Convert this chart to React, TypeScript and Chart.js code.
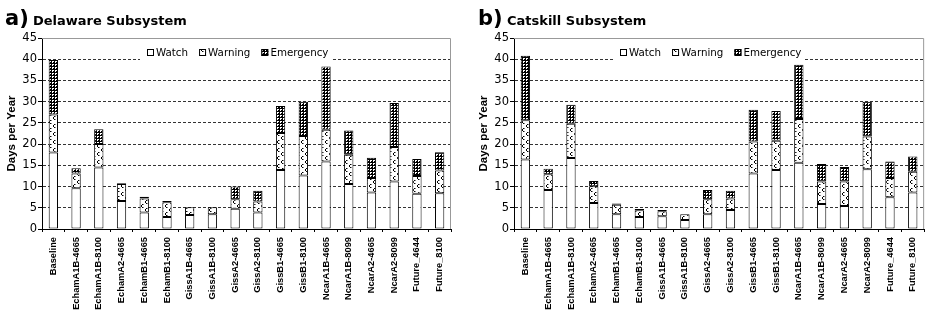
import React, { useEffect, useRef } from 'react';
import { Chart, registerables } from 'chart.js';

Chart.register(...registerables);

const categories = [
  'Baseline', 'EchamA1B-4665', 'EchamA1B-8100', 'EchamA2-4665', 'EchamB1-4665', 'EchamB1-8100',
  'GissA1B-4665', 'GissA1B-8100', 'GissA2-4665', 'GissA2-8100', 'GissB1-4665', 'GissB1-8100',
  'NcarA1B-4665', 'NcarA1B-8099', 'NcarA2-4665', 'NcarA2-8099', 'Future_4644', 'Future_8100',
];

const seriesNames = ['Watch', 'Warning', 'Emergency'];

const delawareWatch = [18.0, 9.6, 14.5, 6.6, 3.9, 2.8, 3.3, 3.5, 4.8, 3.9, 13.9, 12.6, 15.9, 10.6, 8.6, 11.2, 8.3, 8.4];
const delawareWarning = [9.0, 3.5, 5.5, 4.0, 3.3, 3.5, 1.8, 1.6, 2.2, 2.6, 8.7, 9.3, 7.5, 6.9, 3.4, 8.1, 4.2, 5.4];
const delawareEmergency = [12.8, 1.2, 3.5, 0.2, 0.4, 0.3, 0, 0, 3.0, 2.5, 6.4, 8.1, 14.9, 5.7, 4.8, 10.4, 4.0, 4.3];

const catskillWatch = [16.4, 9.2, 16.7, 6.1, 3.5, 2.8, 3.0, 2.1, 3.5, 4.5, 13.1, 13.9, 15.6, 5.9, 5.4, 14.1, 7.5, 8.6];
const catskillWarning = [9.2, 3.7, 8.1, 4.0, 2.2, 1.6, 1.2, 1.4, 3.5, 2.7, 7.5, 6.9, 10.3, 5.3, 5.8, 7.7, 4.5, 4.9];
const catskillEmergency = [15.2, 1.3, 4.5, 1.2, 0.3, 0.3, 0.3, 0, 2.2, 1.8, 7.5, 7.0, 12.8, 4.1, 3.4, 8.2, 3.9, 3.6];

const yMin = 0;
const yMax = 45;
const yStep = 5;
const yAxisTitle = 'Days per Year';

function makePattern(w: number, h: number, draw: (c: CanvasRenderingContext2D) => void) {
  const cv = document.createElement('canvas');
  cv.width = w;
  cv.height = h;
  const c = cv.getContext('2d')!;
  draw(c);
  return c.createPattern(cv, 'repeat')!;
}

function warningPattern() {
  return makePattern(8, 8, (c) => {
    c.fillStyle = '#fff';
    c.fillRect(0, 0, 8, 8);
    c.fillStyle = '#000';
    const dots = [[2, 0], [1, 1], [1, 2], [2, 3], [6, 4], [5, 5], [5, 6], [6, 7]];
    dots.forEach(([x, y]) => c.fillRect(x, y, 1, 1));
    c.fillStyle = '#888';
    const soft = [[3, 0], [3, 3], [7, 4], [7, 7]];
    soft.forEach(([x, y]) => c.fillRect(x, y, 1, 1));
  });
}

function emergencyPattern() {
  return makePattern(3, 3, (c) => {
    c.fillStyle = '#000';
    c.fillRect(0, 0, 3, 3);
    c.fillStyle = '#fff';
    c.fillRect(1, 1, 2, 1);
    c.fillRect(1, 2, 1, 1);
  });
}

const framePlugin = {
  id: 'frame',
  beforeDatasetsDraw(chart: any) {
    const { ctx, chartArea } = chart;
    ctx.save();
    ctx.strokeStyle = '#999';
    ctx.lineWidth = 1;
    ctx.beginPath();
    ctx.moveTo(chartArea.left, chartArea.top + 0.5);
    ctx.lineTo(chartArea.right - 0.5, chartArea.top + 0.5);
    ctx.lineTo(chartArea.right - 0.5, chartArea.bottom);
    ctx.stroke();
    ctx.restore();
  },
};

const legendPlugin = {
  id: 'insideLegend',
  afterDatasetsDraw(chart: any) {
    const { ctx, chartArea } = chart;
    ctx.save();
    ctx.font = '10.3px "DejaVu Sans"';
    const items = chart.data.datasets.map((d: any) => ({ label: d.label, fill: d.backgroundColor }));
    const sw = 7;
    const gapText = 2;
    const gapItem = 11;
    const widths = items.map((it: any) => sw + gapText + ctx.measureText(it.label).width);
    const total = widths.reduce((a: number, b: number) => a + b, 0) + gapItem * (items.length - 1);
    const cx = (chartArea.left + chartArea.right) / 2 - 8.5;
    let x = Math.round(cx - total / 2);
    const cy = chartArea.top + 14.5;
    ctx.fillStyle = '#fff';
    ctx.fillRect(x - 7, Math.round(cy - 7), Math.round(total + 11), 15);
    items.forEach((it: any, i: number) => {
      const sy = Math.round(cy - 3.5);
      ctx.fillStyle = it.fill;
      ctx.fillRect(x, sy, sw, sw);
      ctx.strokeStyle = '#000';
      ctx.lineWidth = 1;
      ctx.strokeRect(x + 0.5, sy + 0.5, sw - 1, sw - 1);
      ctx.fillStyle = '#000';
      ctx.textBaseline = 'middle';
      ctx.textAlign = 'left';
      ctx.fillText(it.label, x + sw + gapText, cy + 0.5);
      x += widths[i] + gapItem;
    });
    ctx.restore();
  },
};

type PanelProps = {
  left: number;
  width: number;
  padLeft: number;
  padRight: number;
  watch: number[];
  warning: number[];
  emergency: number[];
};

function Panel({ left, width, padLeft, padRight, watch, warning, emergency }: PanelProps) {
  const ref = useRef<HTMLCanvasElement>(null);
  useEffect(() => {
    const canvas = ref.current!;
    const warnPat = warningPattern();
    const emPat = emergencyPattern();
    const common = { borderColor: '#000', borderWidth: 1, borderSkipped: false };
    const chart = new Chart(canvas, {
      type: 'bar',
      data: {
        labels: categories,
        datasets: [
          { label: seriesNames[0], data: watch, backgroundColor: '#fff', ...common },
          { label: seriesNames[1], data: warning, backgroundColor: warnPat, ...common },
          { label: seriesNames[2], data: emergency, backgroundColor: emPat, ...common },
        ],
      },
      options: {
        responsive: false,
        animation: false,
        layout: { padding: { left: padLeft, right: padRight, top: 38, bottom: 0 } },
        plugins: { legend: { display: false }, tooltip: { enabled: false }, title: { display: false } },
        datasets: { bar: { barPercentage: 0.41, categoryPercentage: 1 } },
        scales: {
          x: {
            stacked: true,
            offset: true,
            grid: { offset: true, drawOnChartArea: false, drawTicks: true, tickLength: 3, tickColor: '#000' },
            border: { color: '#000', width: 1 },
            ticks: {
              autoSkip: false,
              maxRotation: 90,
              minRotation: 90,
              color: '#000',
              padding: 5,
              font: { family: '"Liberation Sans", Arial, sans-serif', size: 9.3, weight: 'bold' },
            },
            afterFit: (s: any) => { s.height = 89; },
          },
          y: {
            stacked: true,
            min: yMin,
            max: yMax,
            ticks: {
              stepSize: yStep,
              color: '#000',
              padding: 1,
              font: { family: '"DejaVu Sans", sans-serif', size: 11.5 },
            },
            grid: {
              color: (c: any) => (c.tick && (c.tick.value === yMin || c.tick.value === yMax) ? 'rgba(0,0,0,0)' : '#333'),
              tickColor: '#000',
              tickLength: 4,
              tickBorderDash: [],
            },
            border: { color: '#000', width: 1, dash: [3, 2] },
            title: {
              display: true,
              text: yAxisTitle,
              color: '#000',
              padding: { top: 5, bottom: 4 },
              font: { family: '"Liberation Sans", Arial, sans-serif', size: 11.5, weight: 'bold' },
            },
            afterFit: (s: any) => { s.width = 42; },
          },
        },
      } as any,
      plugins: [framePlugin, legendPlugin],
    });
    return () => chart.destroy();
  }, []);
  return (
    <canvas
      ref={ref}
      width={width}
      height={318}
      style={{ position: 'absolute', left, top: 0, width, height: 318 }}
    />
  );
}

const letterStyle: React.CSSProperties = {
  position: 'absolute',
  font: 'bold 21px "DejaVu Sans", sans-serif',
  lineHeight: '21px',
  top: 8,
  color: '#000',
  whiteSpace: 'nowrap',
};
const titleStyle: React.CSSProperties = {
  position: 'absolute',
  font: 'bold 13px "DejaVu Sans", sans-serif',
  lineHeight: '13px',
  top: 14,
  color: '#000',
  whiteSpace: 'nowrap',
};

export default function App() {
  return (
    <div style={{ position: 'fixed', left: 0, top: 0, width: 929, height: 318, background: '#fff', overflow: 'hidden' }}>
      <Panel left={0} width={465} padLeft={0} padRight={14} watch={delawareWatch} warning={delawareWarning} emergency={delawareEmergency} />
      <Panel left={465} width={464} padLeft={7} padRight={3} watch={catskillWatch} warning={catskillWarning} emergency={catskillEmergency} />
      <div style={{ ...letterStyle, left: 5 }}>a)</div>
      <div style={{ ...titleStyle, left: 33 }}>Delaware Subsystem</div>
      <div style={{ ...letterStyle, left: 478 }}>b)</div>
      <div style={{ ...titleStyle, left: 507 }}>Catskill Subsystem</div>
    </div>
  );
}
